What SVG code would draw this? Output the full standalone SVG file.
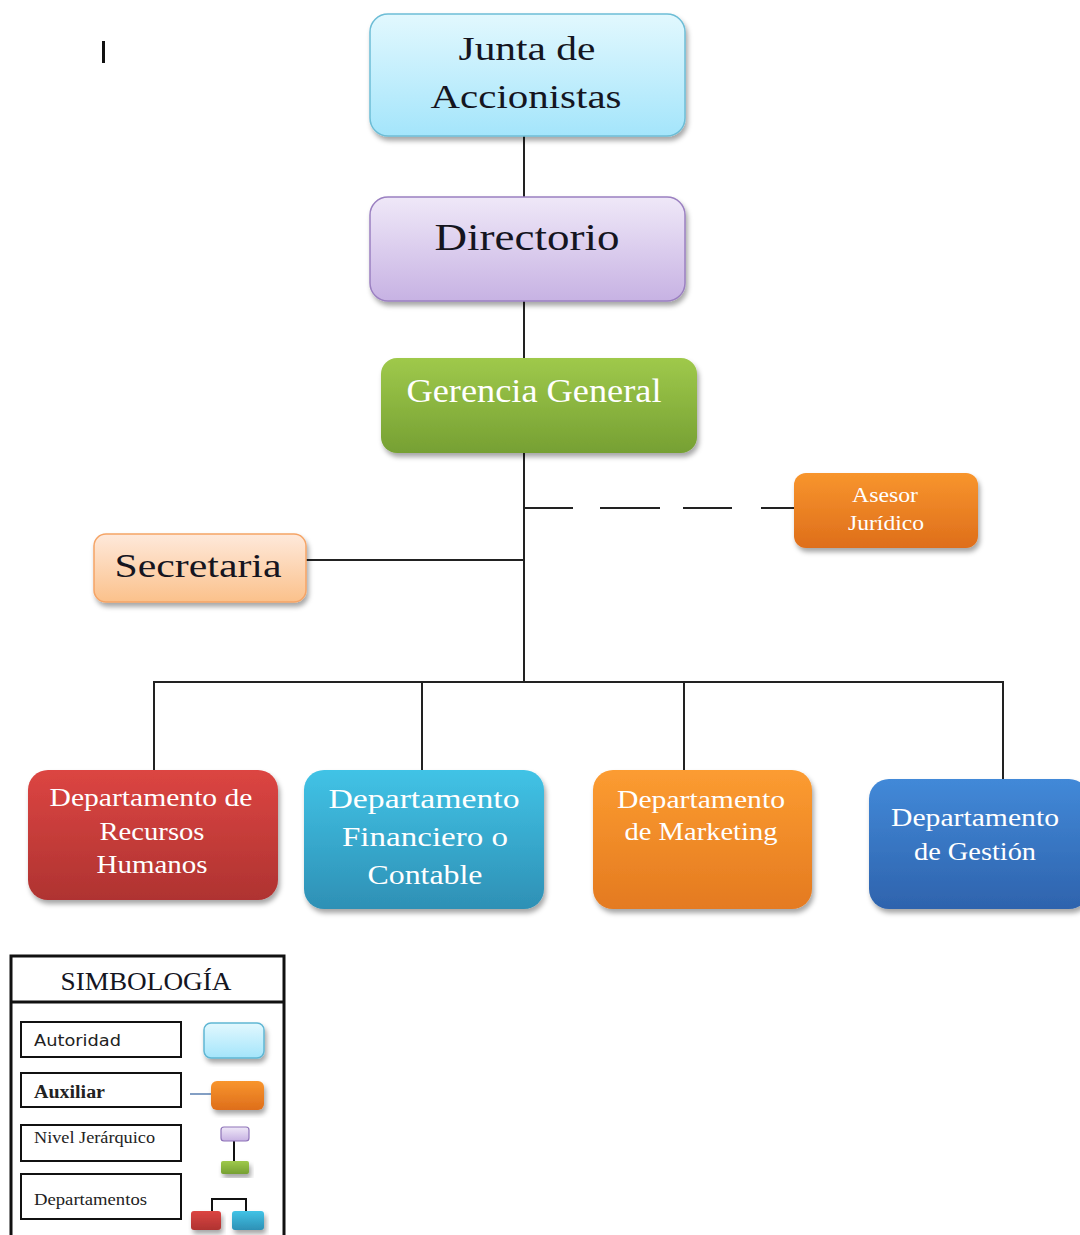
<svg xmlns="http://www.w3.org/2000/svg" width="1080" height="1235" viewBox="0 0 1080 1235">
<style>
.t{font-family:"Liberation Serif","DejaVu Serif",serif;text-anchor:middle}
.dk{fill:#15151f}
.wt{fill:#ffffff}
.ln{stroke:#222;stroke-width:2;fill:none}
.lb{fill:#fff;stroke:#111;stroke-width:2}
.ls{font-family:"DejaVu Sans","Liberation Sans",sans-serif;font-size:15px;fill:#222}
.lsr{font-family:"Liberation Serif","DejaVu Serif",serif;fill:#222}
</style>
<defs>
<filter id="sh" x="-10%" y="-10%" width="125%" height="135%">
<feDropShadow dx="2" dy="4" stdDeviation="2.5" flood-color="#000" flood-opacity="0.35"/>
</filter>
<linearGradient id="gJ" x1="0" y1="0" x2="0" y2="1"><stop offset="0" stop-color="#e2f8fe"/><stop offset="1" stop-color="#a4e5fb"/></linearGradient>
<linearGradient id="gD" x1="0" y1="0" x2="0" y2="1"><stop offset="0" stop-color="#efe8f8"/><stop offset="1" stop-color="#c7b2e3"/></linearGradient>
<linearGradient id="gG" x1="0" y1="0" x2="0" y2="1"><stop offset="0" stop-color="#9fc94b"/><stop offset="1" stop-color="#76a033"/></linearGradient>
<linearGradient id="gA" x1="0" y1="0" x2="0" y2="1"><stop offset="0" stop-color="#f8952d"/><stop offset="1" stop-color="#de6e1b"/></linearGradient>
<linearGradient id="gS" x1="0" y1="0" x2="0" y2="1"><stop offset="0" stop-color="#fee9db"/><stop offset="1" stop-color="#fbc18b"/></linearGradient>
<linearGradient id="gR" x1="0" y1="0" x2="0" y2="1"><stop offset="0" stop-color="#dc4542"/><stop offset="1" stop-color="#af3331"/></linearGradient>
<linearGradient id="gF" x1="0" y1="0" x2="0" y2="1"><stop offset="0" stop-color="#41c3e6"/><stop offset="1" stop-color="#2e90b5"/></linearGradient>
<linearGradient id="gM" x1="0" y1="0" x2="0" y2="1"><stop offset="0" stop-color="#fc9c31"/><stop offset="1" stop-color="#e47a20"/></linearGradient>
<linearGradient id="gB" x1="0" y1="0" x2="0" y2="1"><stop offset="0" stop-color="#4289d8"/><stop offset="1" stop-color="#2e63ad"/></linearGradient>
</defs>
<rect width="1080" height="1235" fill="#fff"/>
<rect x="102" y="41" width="3" height="22" fill="#111"/>

<g id="connectors">
<line class="ln" x1="524" y1="136" x2="524" y2="197"/>
<line class="ln" x1="524" y1="301" x2="524" y2="358"/>
<line class="ln" x1="524" y1="453" x2="524" y2="682"/>
<path class="ln" d="M524 508H573M600 508H660M683 508H732M761 508H794"/>
<line class="ln" x1="306" y1="560" x2="524" y2="560"/>
<path class="ln" d="M154 770V682H1003V779M422 682V770M684 682V770"/>
</g>

<g id="junta">
<rect x="370" y="14" width="315" height="122" rx="18" fill="url(#gJ)" stroke="#6dbdd6" stroke-width="1.5" filter="url(#sh)"/>
<text class="t dk" x="527" y="60" font-size="34" textLength="137" lengthAdjust="spacingAndGlyphs">Junta de</text>
<text class="t dk" x="526" y="108" font-size="34" textLength="191" lengthAdjust="spacingAndGlyphs">Accionistas</text>
</g>
<g id="directorio">
<rect x="370" y="197" width="315" height="104" rx="18" fill="url(#gD)" stroke="#9b80c1" stroke-width="1.5" filter="url(#sh)"/>
<text class="t dk" x="527" y="250" font-size="38" textLength="185" lengthAdjust="spacingAndGlyphs">Directorio</text>
</g>
<g id="gerencia">
<rect x="381" y="358" width="316" height="95" rx="16" fill="url(#gG)" filter="url(#sh)"/>
<text class="t wt" x="534" y="402" font-size="33" textLength="255" lengthAdjust="spacingAndGlyphs">Gerencia General</text>
</g>
<g id="asesor">
<rect x="794" y="473" width="184" height="75" rx="12" fill="url(#gA)" filter="url(#sh)"/>
<text class="t wt" x="885" y="502" font-size="20" textLength="66" lengthAdjust="spacingAndGlyphs">Asesor</text>
<text class="t wt" x="886" y="530" font-size="20" textLength="76" lengthAdjust="spacingAndGlyphs">Jurídico</text>
</g>
<g id="secretaria">
<rect x="94" y="534" width="212" height="68" rx="12" fill="url(#gS)" stroke="#f5a466" stroke-width="1.5" filter="url(#sh)"/>
<text class="t dk" x="198" y="577" font-size="34" textLength="167" lengthAdjust="spacingAndGlyphs">Secretaria</text>
</g>
<g id="rrhh">
<rect x="28" y="770" width="250" height="130" rx="20" fill="url(#gR)" filter="url(#sh)"/>
<text class="t wt" x="151" y="806" font-size="26" textLength="203" lengthAdjust="spacingAndGlyphs">Departamento de</text>
<text class="t wt" x="152" y="840" font-size="26" textLength="105" lengthAdjust="spacingAndGlyphs">Recursos</text>
<text class="t wt" x="152" y="873" font-size="26" textLength="111" lengthAdjust="spacingAndGlyphs">Humanos</text>
</g>
<g id="financiero">
<rect x="304" y="770" width="240" height="139" rx="20" fill="url(#gF)" filter="url(#sh)"/>
<text class="t wt" x="424" y="808" font-size="27" textLength="191" lengthAdjust="spacingAndGlyphs">Departamento</text>
<text class="t wt" x="425" y="846" font-size="27" textLength="166" lengthAdjust="spacingAndGlyphs">Financiero o</text>
<text class="t wt" x="425" y="884" font-size="27" textLength="115" lengthAdjust="spacingAndGlyphs">Contable</text>
</g>
<g id="marketing">
<rect x="593" y="770" width="219" height="139" rx="20" fill="url(#gM)" filter="url(#sh)"/>
<text class="t wt" x="701" y="808" font-size="25" textLength="168" lengthAdjust="spacingAndGlyphs">Departamento</text>
<text class="t wt" x="701" y="840" font-size="25" textLength="153" lengthAdjust="spacingAndGlyphs">de Marketing</text>
</g>
<g id="gestion">
<rect x="869" y="779" width="220" height="130" rx="20" fill="url(#gB)" filter="url(#sh)"/>
<text class="t wt" x="975" y="826" font-size="25" textLength="168" lengthAdjust="spacingAndGlyphs">Departamento</text>
<text class="t wt" x="975" y="860" font-size="25" textLength="122" lengthAdjust="spacingAndGlyphs">de Gestión</text>
</g>

<g id="legend">
<rect x="11" y="956" width="273" height="290" fill="#fff" stroke="#111" stroke-width="3"/>
<line x1="11" y1="1002" x2="284" y2="1002" stroke="#111" stroke-width="3"/>
<text class="t dk" x="146" y="990" font-size="25" textLength="171" lengthAdjust="spacingAndGlyphs">SIMBOLOGÍA</text>
<rect class="lb" x="21" y="1022" width="160" height="35"/>
<text class="ls" x="34" y="1046" textLength="87" lengthAdjust="spacingAndGlyphs">Autoridad</text>
<rect x="204" y="1023" width="60" height="35" rx="7" fill="url(#gJ)" stroke="#5fb6d3" stroke-width="1.5" filter="url(#sh)"/>
<rect class="lb" x="21" y="1073" width="160" height="34"/>
<text class="lsr" x="34" y="1098" font-size="18" font-weight="bold" textLength="71" lengthAdjust="spacingAndGlyphs">Auxiliar</text>
<line x1="190" y1="1094" x2="211" y2="1094" stroke="#5a7fb0" stroke-width="1.5"/>
<rect x="211" y="1081" width="53" height="29" rx="6" fill="url(#gA)" filter="url(#sh)"/>
<rect class="lb" x="21" y="1125" width="160" height="36"/>
<text class="lsr" x="34" y="1143" font-size="16" textLength="121" lengthAdjust="spacingAndGlyphs">Nivel Jerárquico</text>
<line x1="234" y1="1141" x2="234" y2="1161" stroke="#111" stroke-width="2"/>
<rect x="221" y="1127" width="28" height="14" rx="3" fill="url(#gD)" stroke="#8e73b8" stroke-width="1.2"/>
<rect x="221" y="1161" width="28" height="13" rx="2" fill="url(#gG)" filter="url(#sh)"/>
<rect class="lb" x="21" y="1174" width="160" height="45"/>
<text class="lsr" x="34" y="1205" font-size="16" textLength="113" lengthAdjust="spacingAndGlyphs">Departamentos</text>
<path d="M212 1212V1199H246V1212" stroke="#111" stroke-width="2" fill="none"/>
<rect x="191" y="1211" width="30" height="19" rx="3" fill="url(#gR)" filter="url(#sh)"/>
<rect x="232" y="1211" width="32" height="19" rx="3" fill="url(#gF)" filter="url(#sh)"/>
</g>
</svg>
